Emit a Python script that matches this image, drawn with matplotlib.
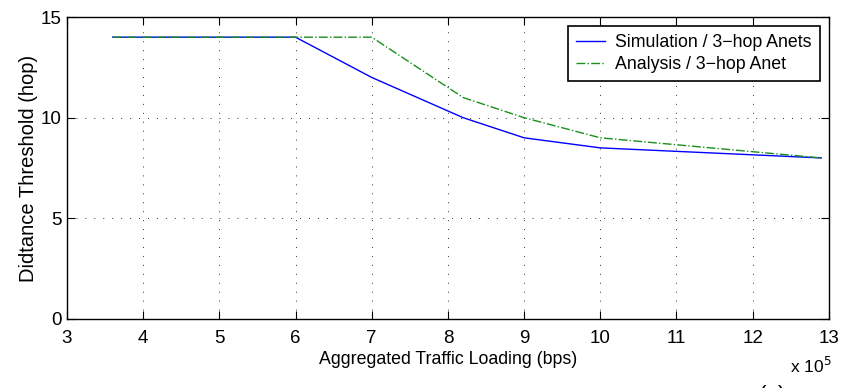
import matplotlib.pyplot as plt

# traffic load in units of 1e5 bps
x_sim = [3.6, 6, 7, 8.2, 9, 10, 12.9]
y_sim = [14, 14, 12, 10, 9, 8.5, 8]
x_ana = [3.6, 6, 7, 8.2, 9, 10, 12.9]
y_ana = [14, 14, 14, 11, 10, 9, 8]

plt.rcParams['font.family'] = ['Liberation Sans', 'DejaVu Sans']

fig = plt.figure(figsize=(8.51, 3.88), dpi=100)
ax = fig.add_axes([0.0787, 0.178, 0.8953, 0.778])

ax.plot(x_sim, y_sim, color='#0000ff', lw=1.0, label='Simulation / 3\u2212hop Anets')
ax.plot(x_ana, y_ana, color='#1a8f1a', lw=1.0, linestyle='-.', label='Analysis / 3\u2212hop Anet')

ax.set_xlim(3, 13)
ax.set_ylim(0, 15)
ax.set_xticks(range(3, 14))
ax.set_yticks([0, 5, 10, 15])
ax.tick_params(direction='in', top=True, right=True, labelsize=13.5, length=6, width=0.8)
ax.tick_params(axis='x', pad=8)
ax.tick_params(axis='y', pad=4)
ax.grid(True, linestyle=(0, (1, 8.2)), color='#333333', linewidth=0.7)
for s in ax.spines.values():
    s.set_linewidth(1.0)

ax.set_xlabel('Aggregated Traffic Loading (bps)', fontsize=12.8, labelpad=3)
ax.set_ylabel('Didtance Threshold (hop)', fontsize=14.5, labelpad=2)

leg = ax.legend(loc='upper right', fontsize=12.8, fancybox=False, framealpha=1,
                edgecolor='black', borderaxespad=0.5, handlelength=1.6,
                handletextpad=0.6, labelspacing=0.3, borderpad=0.45)
leg.get_frame().set_linewidth(1.2)

fig.text(0.928, 0.03, 'x 10$^5$', fontsize=12.5, ha='left', va='bottom')
fig.text(0.907, 0.008, '(a)', fontsize=16, ha='center', va='top')

fig.savefig('out.png', dpi=100)
